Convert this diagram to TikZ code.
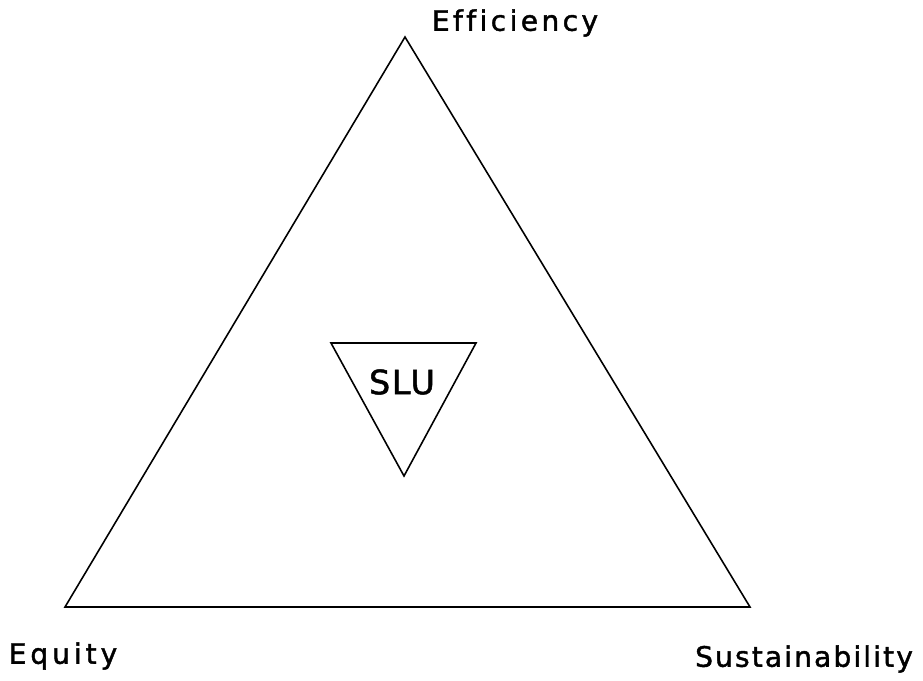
\documentclass[tikz,border=0pt]{standalone}
\usepackage{fontspec}
\setmainfont{DejaVu Sans}[LetterSpace=12,FakeBold=1.5,Ligatures={NoCommon}]
\begin{document}
\begin{tikzpicture}[x=0.02cm,y=-0.02cm,
  edge/.style={line width=0.9pt,line join=miter},
  label/.style={font=\fontsize{16}{18}\selectfont,inner sep=0pt}]
\useasboundingbox[fill=white] (0,0) rectangle (923,680);
% outer triangle corners
\coordinate (top) at (405,37);
\coordinate (left) at (65,607);
\coordinate (right) at (750,607);
\draw[edge] (top) -- (left) -- (right) -- cycle;
% inner inverted triangle
\coordinate (itl) at (331,343);
\coordinate (itr) at (476,343);
\coordinate (ibot) at (404,476);
\draw[edge] (itl) -- (itr) -- (ibot) -- cycle;
% labels
\node[label] (eff) at (515,23) {Efficiency};
\node[label,font=\fontsize{16}{18}\selectfont\addfontfeature{LetterSpace=14}] (equ) at (63,656) {Equity};
\node[label,font=\fontsize{16}{18}\selectfont\addfontfeature{LetterSpace=7.5}] (sus) at (804,659) {Sustainability};
\node[label,font=\fontsize{19}{22}\selectfont\addfontfeature{LetterSpace=5}] (slu) at (402,382) {SLU};
\end{tikzpicture}
\end{document}
